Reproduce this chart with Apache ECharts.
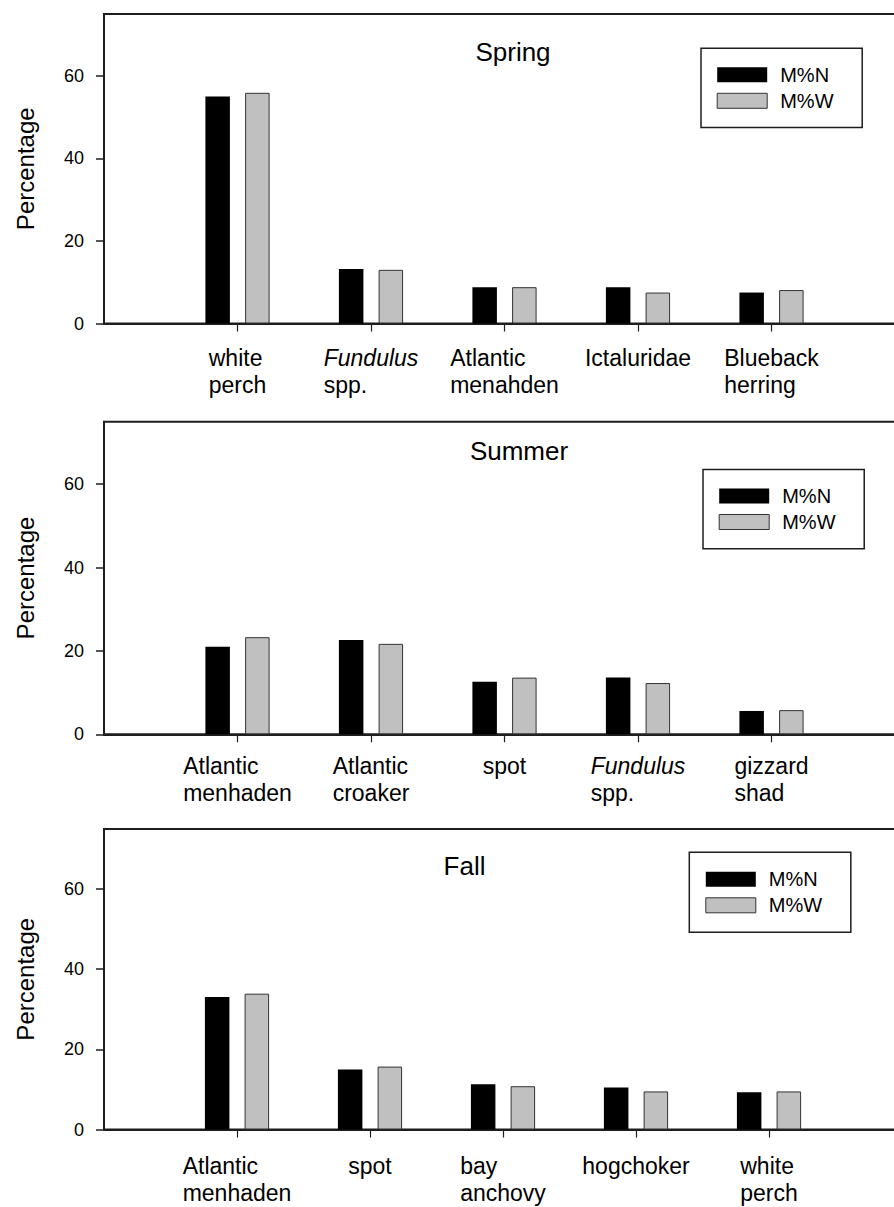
<!DOCTYPE html>
<html>
<head>
<meta charset="utf-8">
<script src="https://cdn.jsdelivr.net/npm/echarts@6/dist/echarts.min.js"></script>
<style>
  html, body { margin: 0; padding: 0; background: #fff; }
  #chart { width: 894px; height: 1207px; }
</style>
</head>
<body>
<div id="chart"></div>
<script>
// Series shown in every season panel
const seriesNames = ['M%N', 'M%W'];

// Spring
const springCategories = ['white perch', 'Fundulus spp.', 'Atlantic menahden', 'Ictaluridae', 'Blueback herring'];
const springMN = [55.0, 13.2, 8.8, 8.8, 7.5];
const springMW = [55.9, 13.0, 8.8, 7.5, 8.1];

// Summer
const summerCategories = ['Atlantic menhaden', 'Atlantic croaker', 'spot', 'Fundulus spp.', 'gizzard shad'];
const summerMN = [21.0, 22.6, 12.6, 13.6, 5.6];
const summerMW = [23.3, 21.7, 13.6, 12.3, 5.8];

// Fall
const fallCategories = ['Atlantic menhaden', 'spot', 'bay anchovy', 'hogchoker', 'white perch'];
const fallMN = [33.1, 15.0, 11.3, 10.5, 9.3];
const fallMW = [33.9, 15.7, 10.8, 9.5, 9.5];

// Value axis
const yTicks = [0, 20, 40, 60];
const yMax = 75;

// Genus names set in italics
const italicWords = ['Fundulus'];

const FONT = '"Liberation Sans", Arial, Helvetica, sans-serif';
const AXIS_COLOR = '#1e1e1e';

const panels = [
  { title: 'Spring', cats: springCategories, mn: springMN, mw: springMW,
    grid: { left: 104, top: 14, width: 801, height: 309.5 },
    labelMargin: 21, titleXY: [513, 52],
    legend: { left: 701, top: 48.3, padding: [16.5, 28.7, 16.7, 15.7] } },
  { title: 'Summer', cats: summerCategories, mn: summerMN, mw: summerMW,
    grid: { left: 104, top: 421.7, width: 801, height: 312.6 },
    labelMargin: 18, titleXY: [519, 451],
    legend: { left: 703, top: 469.5, padding: [16.5, 28.7, 16.7, 15.7] } },
  { title: 'Fall', cats: fallCategories, mn: fallMN, mw: fallMW,
    grid: { left: 104, top: 829, width: 798, height: 300.5 },
    labelMargin: 23, titleXY: [464.5, 866],
    legend: { left: 689.3, top: 852.3, padding: [17, 28.7, 17, 16] } }
];

// Each word of a category name goes on its own line
function categoryLabel(value) {
  if (!value) return '';
  return value.split(' ')
    .map(w => (italicWords.indexOf(w) >= 0 ? '{it|' + w + '}' : '{rm|' + w + '}'))
    .join('\n');
}

const labelRich = {
  rm: { fontFamily: FONT, fontSize: 23, lineHeight: 27, color: '#000', align: 'left' },
  it: { fontFamily: FONT, fontSize: 23, lineHeight: 27, color: '#000', align: 'left', fontStyle: 'italic' }
};

const pad = arr => ['-'].concat(arr, ['-']);

const option = {
  animation: false,
  backgroundColor: '#fff',
  textStyle: { fontFamily: FONT },
  grid: panels.map(p => Object.assign({
    show: true, borderColor: AXIS_COLOR, borderWidth: 2, backgroundColor: 'transparent',
    containLabel: false, outerBoundsMode: 'none'
  }, p.grid)),
  xAxis: panels.map((p, k) => ({
    type: 'category',
    gridIndex: k,
    boundaryGap: false,
    data: [''].concat(p.cats, ['']),
    axisLine: { show: true, lineStyle: { color: AXIS_COLOR, width: 2 } },
    axisTick: {
      show: true, length: 8,
      interval: (i, v) => v !== '',
      lineStyle: { color: AXIS_COLOR, width: 1.2 }
    },
    axisLabel: {
      interval: 0, margin: p.labelMargin, hideOverlap: false,
      formatter: categoryLabel, rich: labelRich
    },
    splitLine: { show: false }
  })),
  yAxis: panels.map((p, k) => ({
    type: 'value',
    gridIndex: k,
    min: 0, max: yMax,
    name: 'Percentage',
    nameLocation: 'middle',
    nameGap: 67,
    nameTextStyle: { fontFamily: FONT, fontSize: 24, color: '#000' },
    axisLine: { show: true, lineStyle: { color: AXIS_COLOR, width: 2 } },
    axisTick: { show: true, length: 8, customValues: yTicks, lineStyle: { color: AXIS_COLOR, width: 1.5 } },
    axisLabel: { customValues: yTicks, margin: 20, fontFamily: FONT, fontSize: 18, color: '#000' },
    splitLine: { show: false }
  })),
  legend: panels.map(p => ({
    orient: 'vertical',
    left: p.legend.left, top: p.legend.top,
    padding: p.legend.padding,
    icon: 'rect', itemWidth: 50, itemHeight: 15, itemGap: 6,
    borderColor: AXIS_COLOR, borderWidth: 1.5,
    selectedMode: false,
    formatter: name => '{t|' + name + '}',
    textStyle: {
      color: '#000', fontFamily: FONT, fontSize: 20,
      rich: { t: { fontFamily: FONT, fontSize: 20, color: '#000', padding: [0, 0, 0, 8] } }
    },
    data: [
      { name: seriesNames[0], itemStyle: { color: '#000', borderWidth: 0 } },
      { name: seriesNames[1], itemStyle: { color: '#c0c0c0', borderColor: '#333', borderWidth: 1 } }
    ]
  })),
  graphic: panels.map(p => ({
    type: 'text',
    x: p.titleXY[0], y: p.titleXY[1],
    style: {
      text: p.title, font: '26px ' + FONT, fill: '#000',
      align: 'center', verticalAlign: 'middle',
      textAlign: 'center', textVerticalAlign: 'middle'
    }
  })),
  series: []
};

panels.forEach((p, k) => {
  option.series.push({
    name: seriesNames[0], type: 'bar', xAxisIndex: k, yAxisIndex: k,
    data: pad(p.mn), barWidth: 24.5, barGap: '62%',
    itemStyle: { color: '#000', borderColor: '#000', borderWidth: 0 },
    emphasis: { disabled: true }
  });
  option.series.push({
    name: seriesNames[1], type: 'bar', xAxisIndex: k, yAxisIndex: k,
    data: pad(p.mw), barWidth: 24.5, barGap: '62%',
    itemStyle: { color: '#c0c0c0', borderColor: '#333', borderWidth: 1 },
    emphasis: { disabled: true }
  });
});

const chart = echarts.init(document.getElementById('chart'), null, { renderer: 'svg' });
chart.setOption(option);
</script>
</body>
</html>
